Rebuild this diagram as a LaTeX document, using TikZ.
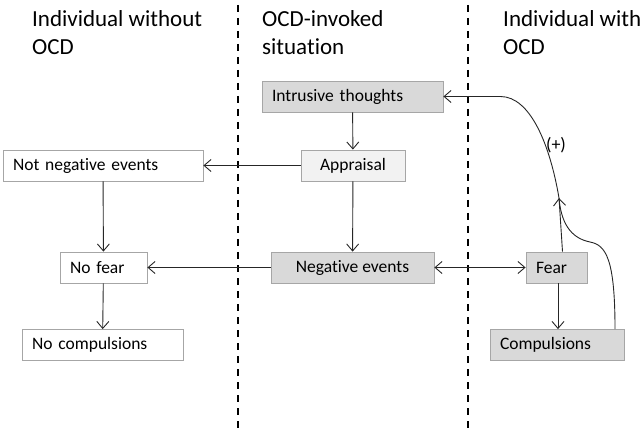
\documentclass[tikz,border=0pt]{standalone}
\usepackage{fontspec}
\setmainfont{Carlito}[Ligatures=NoCommon]
\usetikzlibrary{arrows.meta}

\definecolor{boxdark}{HTML}{D9D9D9}
\definecolor{boxlight}{HTML}{F2F2F2}
\definecolor{boxline}{HTML}{A6A6A6}

\begin{document}
\begin{tikzpicture}[x=1pt,y=-1pt,
  box/.style={draw=boxline,line width=0.8pt,minimum height=31pt,inner xsep=10pt,inner ysep=0pt,
    font=\fontsize{17.5}{20}\selectfont,align=left},
  darkbox/.style={box,fill=boxdark},
  lightbox/.style={box,fill=boxlight},
  whitebox/.style={box,fill=white},
  arr/.style={black!85,line width=0.9pt,-{Straight Barb[length=7pt,width=12pt]}},
  both/.style={black!85,line width=0.9pt,{Straight Barb[length=7pt,width=12pt]}-{Straight Barb[length=7pt,width=12pt]}},
  divider/.style={black,line width=1.8pt,dash pattern=on 7pt off 6pt},
  title/.style={anchor=north west,inner sep=0pt,align=left,font=\fontsize{23}{28}\selectfont}
]
\useasboundingbox (0,0) rectangle (644,435);

% column dividers
\draw[divider] (238,5) -- (238,432);
\draw[divider] (468,5) -- (468,432);

% column titles
\node[title] (tleft) at (32,10) {Individual without\\OCD};
\node[title] (tmid) at (262,10) {OCD-invoked\\situation};
\node[title] (tright) at (503,10) {Individual with\\OCD};

% middle column
\node[darkbox,text width=161pt] (intr) at (352.5,96.5) {Intrusive thoughts};
\node[lightbox,minimum width=104pt,align=center] (appr) at (353,165.5) {Appraisal};
\node[darkbox,minimum width=163pt,align=center] (negev) at (352.5,267.5) {Negative events};

% left column
\node[whitebox,text width=180pt] (notneg) at (103,165.5) {Not negative events};
\node[whitebox,text width=67pt] (nofear) at (103.5,267.5) {No fear};
\node[whitebox,text width=141pt] (nocomp) at (102.5,345) {No compulsions};

% right column
\node[darkbox,text width=41pt] (fear) at (556.5,267.5) {Fear};
\node[darkbox,text width=114pt] (comp) at (557,345) {Compulsions};

\coordinate (J) at (559,198);

\draw[arr] (intr) -- (appr);
\draw[arr] (appr) -- (notneg);
\draw[arr] (appr) -- (negev);
\draw[arr] (notneg) -- (nofear);
\draw[arr] (negev) -- (nofear);
\draw[both] (negev) -- (fear);
\draw[arr] (nofear) -- (nocomp);
\draw[arr] ([xshift=1.5pt]fear.south) -- ([xshift=1.5pt]fear.south |- comp.north);

% feedback loop
\draw[arr] ([xshift=6pt]fear.north) -- (J);
\draw[black!85,line width=0.9pt] ([xshift=58pt]comp.north) .. controls +(0,-70) and (606,245) .. (590,242)
  .. controls (570,238) and (561,222) .. (J);
\draw[arr] (J) .. controls (550,145) and ([xshift=87pt]intr.east) .. ([xshift=57pt]intr.east) -- (intr.east);
\node[font=\fontsize{18}{20}\selectfont] (plus) at (556,145) {(+)};
\end{tikzpicture}
\end{document}
